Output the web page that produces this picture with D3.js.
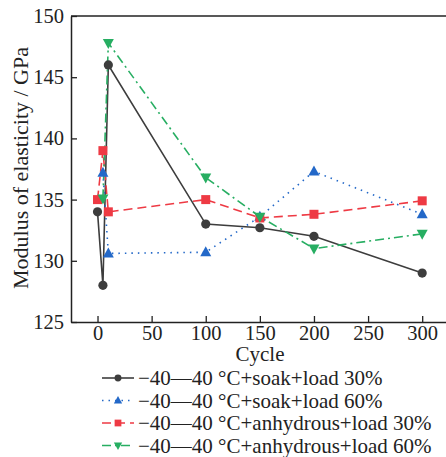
<!DOCTYPE html>
<html><head><meta charset="utf-8">
<script src="https://cdn.jsdelivr.net/npm/d3@7"></script>
<style>body{margin:0;background:#fff}svg{display:block}</style>
</head><body><svg id="c" width="446" height="457"></svg>
<script>
const xTicks = [0,50,100,150,200,250,300];
const yTicks = [125,130,135,140,145,150];
const blackX = [0,5,10,100,150,200,300];
const blackY = [134,128,146,133,132.7,132,129];
const blueX = [5,10,100,150,200,300];
const blueY = [137.2,130.6,130.7,133.6,137.3,133.8];
const redX = [0,5,10,100,150,200,300];
const redY = [135,139,134,135,133.5,133.8,134.9];
const greenX = [5,10,100,150,200,300];
const greenY = [135.1,147.8,136.8,133.6,131.0,132.2];
const legendLabels = ["\u221240\u201440 \u00B0C+soak+load 30%","\u221240\u201440 \u00B0C+soak+load 60%","\u221240\u201440 \u00B0C+anhydrous+load 30%","\u221240\u201440 \u00B0C+anhydrous+load 60%"];

const FONT = '"Liberation Serif"';
const svg = d3.select("#c");
const L=71,T=16,R=446,B=322;
const x = d3.scaleLinear().domain([-24.5,322]).range([L,R]);
const y = d3.scaleLinear().domain([125,150]).range([B,T]);

const series = [
 {xs:blackX, ys:blackY, color:"#3d3d3d", dash:null, sym:"circle"},
 {xs:blueX, ys:blueY, color:"#2368c8", dash:"1.5,5", sym:"up"},
 {xs:redX, ys:redY, color:"#ee3a44", dash:"9,5", sym:"square"},
 {xs:greenX, ys:greenY, color:"#27ae62", dash:"9,4,2,4", sym:"down"}
];

function marker(g, sym, cx, cy, s, color){
  if(sym==="circle") g.append("circle").attr("cx",cx).attr("cy",cy).attr("r",4.6*s).attr("fill",color);
  else if(sym==="square") g.append("rect").attr("x",cx-4.5*s).attr("y",cy-4.5*s).attr("width",9*s).attr("height",9*s).attr("fill",color);
  else if(sym==="up") g.append("path").attr("d",`M${cx},${cy-6*s}L${cx+5.5*s},${cy+4*s}L${cx-5.5*s},${cy+4*s}Z`).attr("fill",color);
  else g.append("path").attr("d",`M${cx},${cy+6*s}L${cx+5.5*s},${cy-4*s}L${cx-5.5*s},${cy-4*s}Z`).attr("fill",color);
}

// axes
const xAxis = svg.append("g").attr("transform",`translate(0,${B})`)
  .call(d3.axisBottom(x).tickValues(xTicks).tickSizeInner(-6).tickSizeOuter(0).tickPadding(3));
const yAxis = svg.append("g").attr("transform",`translate(${L},0)`)
  .call(d3.axisLeft(y).tickValues(yTicks).tickSizeInner(-6).tickSizeOuter(0).tickPadding(7));
[xAxis,yAxis].forEach(a=>{
  a.selectAll("path.domain").attr("stroke","#222").attr("stroke-width",1.5);
  a.selectAll(".tick line").attr("stroke","#222").attr("stroke-width",1.3);
  a.selectAll("text").attr("fill","#222").style("font-family",FONT).style("font-size","20.5px");
});
svg.append("line").attr("x1",L).attr("x2",R).attr("y1",T).attr("y2",T).attr("stroke","#222").attr("stroke-width",1.5);

// series
const line = d3.line().x(d=>x(d[0])).y(d=>y(d[1]));
series.forEach(s=>{
  const pts = s.xs.map((v,i)=>[v,s.ys[i]]);
  svg.append("path").attr("d",line(pts)).attr("fill","none").attr("stroke",s.color)
    .attr("stroke-width",1.6).attr("stroke-dasharray",s.dash);
});
series.forEach(s=>{
  const g = svg.append("g");
  s.xs.forEach((v,i)=>marker(g,s.sym,x(v),y(s.ys[i]),1,s.color));
});

// labels
svg.append("text").attr("transform","translate(28,168) rotate(-90)").attr("text-anchor","middle")
  .style("font-family",FONT).style("font-size","22px").attr("fill","#222").text("Modulus of elasticity / GPa");
svg.append("text").attr("x",260).attr("y",361).attr("text-anchor","middle")
  .style("font-family",FONT).style("font-size","21px").attr("fill","#222").text("Cycle");

// legend
const ly0 = 378, lstep = 22.5;
series.forEach((s,i)=>{
  const cy = ly0 + i*lstep;
  svg.append("line").attr("x1",102).attr("x2",134).attr("y1",cy).attr("y2",cy)
    .attr("stroke",s.color).attr("stroke-width",1.6).attr("stroke-dasharray",s.dash);
  marker(svg,s.sym,118,cy,0.75,s.color);
  svg.append("text").attr("x",138).attr("y",cy+7).style("font-family",FONT).style("font-size","21px")
    .attr("fill","#222").text(legendLabels[i]);
});
</script></body></html>
